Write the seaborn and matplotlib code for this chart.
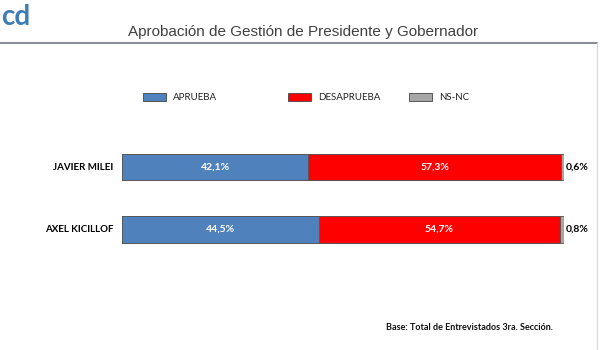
import seaborn as sns
import matplotlib.pyplot as plt
import pandas as pd
from matplotlib.patches import Rectangle
from matplotlib.lines import Line2D

# Datos
nombres = ["JAVIER MILEI", "AXEL KICILLOF"]
aprueba = [42.1, 44.5]
desaprueba = [57.3, 54.7]
nsnc = [0.6, 0.8]

series = ["APRUEBA", "DESAPRUEBA", "NS-NC"]
colores = ["#4F81BD", "#FF0000", "#A6A6A6"]

df = pd.DataFrame({"nombre": nombres, "aprueba": aprueba,
                   "desaprueba": desaprueba, "nsnc": nsnc})
df["c1"] = df["aprueba"]
df["c2"] = df["aprueba"] + df["desaprueba"]
df["c3"] = df["c2"] + df["nsnc"]

sns.set_style("white")
plt.rcParams["font.family"] = ["Lato", "DejaVu Sans"]

fig = plt.figure(figsize=(6, 3.5), dpi=100)
ax = fig.add_axes([122 / 600, 1 - 265 / 350, 442 / 600, 135 / 350])

# barras apiladas (capas acumuladas)
for col, color in zip(["c3", "c2", "c1"], colores[::-1]):
    sns.barplot(data=df, y="nombre", x=col, orient="h", color=color,
                width=0.42, edgecolor="#555555", linewidth=0.6, ax=ax,
                saturation=1)

ax.set_xlim(0, 100)
ax.set_ylim(1.568, -0.592)
ax.set_xlabel("")
ax.set_ylabel("")
ax.set_xticks([])
ax.set_yticks([])
for s in ax.spines.values():
    s.set_visible(False)

# etiquetas de valores
for i in range(len(nombres)):
    ax.text(aprueba[i] / 2, i, f"{aprueba[i]:.1f}%".replace(".", ","),
            color="white", ha="center", va="center", fontsize=7.5, fontweight="bold")
    ax.text(aprueba[i] + desaprueba[i] / 2, i, f"{desaprueba[i]:.1f}%".replace(".", ","),
            color="white", ha="center", va="center", fontsize=7.5, fontweight="bold")
    ax.text(100.5, i, f"{nsnc[i]:.1f}%".replace(".", ","),
            color="black", ha="left", va="center", fontsize=7.5, fontweight="bold")
    ax.text(-2, i, nombres[i], color="black", ha="right", va="center",
            fontsize=7, fontweight="bold")

# leyenda manual
leg_x = [143, 288, 409]
for x, lab, c in zip(leg_x, series, colores):
    fig.patches.append(Rectangle((x / 600, 1 - 101 / 350), 23 / 600, 8 / 350,
                                 transform=fig.transFigure, facecolor=c,
                                 edgecolor="#444444", linewidth=0.6))
    fig.text((x + 30) / 600, 1 - 97 / 350, lab, ha="left", va="center",
             fontsize=7, color="#222222")

# titulo y linea
fig.text(303 / 600, 1 - 32 / 350, "Aprobación de Gestión de Presidente y Gobernador",
         ha="center", va="center", fontsize=11, color="#404040",
         family=["Liberation Sans", "DejaVu Sans"])
fig.add_artist(Line2D([0, 597 / 600], [1 - 43 / 350, 1 - 43 / 350],
                      transform=fig.transFigure, color="#8A8F96", linewidth=1.5))
fig.add_artist(Line2D([597 / 600, 597 / 600], [0, 1 - 43 / 350],
                      transform=fig.transFigure, color="#DDDDDD", linewidth=1))

# logo aproximado
fig.text(1 / 600, 1 - 17 / 350, "cd", ha="left", va="center", fontsize=20,
         fontweight="bold", color="#3E7CB8")

fig.text(553 / 600, 1 - 327 / 350, "Base: Total de Entrevistados 3ra. Sección.",
         ha="right", va="center", fontsize=6.5, fontweight="bold", color="#111111")

fig.savefig("out.png", dpi=100)
